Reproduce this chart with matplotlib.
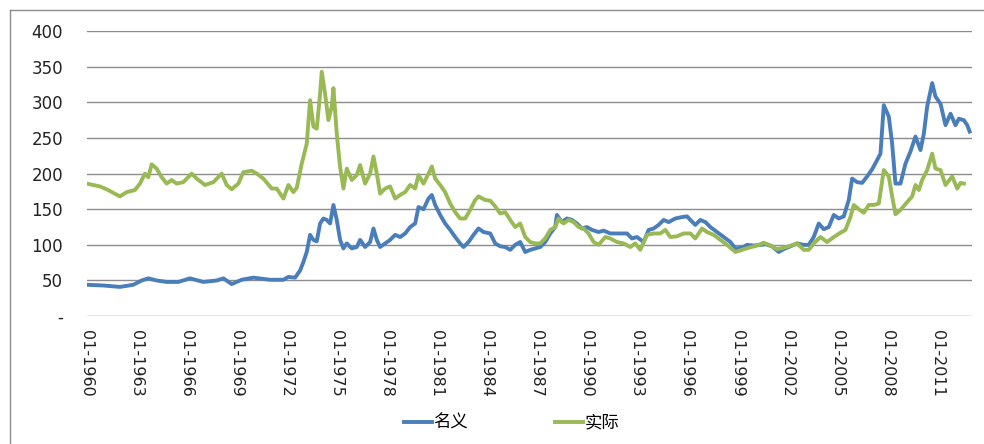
import matplotlib
matplotlib.use("Agg")
import matplotlib.pyplot as plt
from matplotlib.lines import Line2D

plt.rcParams['font.family'] = ['DejaVu Sans']

# nominal price index (decimal year, value)
nominal_years = [
    1960.0, 1961.0, 1962.0, 1962.8, 1963.3, 1963.7, 1964.2, 1964.8, 1965.5, 1966.2,
    1967.0, 1967.8, 1968.2, 1968.7, 1969.3, 1970.0, 1971.0, 1971.8, 1972.1, 1972.5,
    1972.8, 1973.0, 1973.2, 1973.4, 1973.6, 1973.8, 1974.0, 1974.2, 1974.4, 1974.6,
    1974.8, 1975.0, 1975.2, 1975.4, 1975.6, 1975.9, 1976.2, 1976.4, 1976.7, 1977.0,
    1977.2, 1977.4, 1977.6, 1977.9, 1978.2, 1978.5, 1978.8, 1979.1, 1979.4, 1979.7,
    1979.9, 1980.2, 1980.5, 1980.7, 1980.9, 1981.2, 1981.5, 1981.8, 1982.1, 1982.4,
    1982.6, 1982.9, 1983.2, 1983.5, 1983.8, 1984.2, 1984.5, 1984.8, 1985.1, 1985.4,
    1985.7, 1986.0, 1986.3, 1986.6, 1986.9, 1987.2, 1987.5, 1987.8, 1988.1, 1988.2,
    1988.5, 1988.8, 1989.1, 1989.4, 1989.7, 1990.0, 1990.3, 1990.7, 1991.0, 1991.4,
    1992.0, 1992.4, 1992.7, 1993.0, 1993.4, 1993.7, 1994.0, 1994.3, 1994.6, 1994.9,
    1995.3, 1995.7, 1996.0, 1996.2, 1996.5, 1996.8, 1997.1, 1997.4, 1997.8, 1998.2,
    1998.6, 1998.9, 1999.3, 1999.6, 2000.0, 2000.4, 2000.7, 2001.1, 2001.5, 2001.8,
    2002.1, 2002.6, 2003.0, 2003.3, 2003.6, 2003.9, 2004.2, 2004.5, 2004.8, 2005.1,
    2005.4, 2005.7, 2005.9, 2006.2, 2006.5, 2006.8, 2007.1, 2007.4, 2007.6, 2007.8,
    2008.1, 2008.3, 2008.5, 2008.8, 2009.1, 2009.4, 2009.7, 2010.0, 2010.2, 2010.4,
    2010.7, 2010.9, 2011.2, 2011.5, 2011.8, 2012.1, 2012.3, 2012.6, 2012.8, 2012.95,
]
nominal = [
    44, 43, 41, 44, 50, 53, 50, 48, 48, 53,
    48, 50, 53, 45, 51, 54, 51, 51, 55, 54,
    64, 76, 90, 114, 107, 105, 130, 137, 135, 130,
    156, 135, 107, 95, 102, 95, 97, 107, 97, 104,
    123, 107, 97, 102, 107, 114, 111, 116, 125, 130,
    153, 150, 165, 170, 156, 142, 130, 121, 111, 102,
    97, 104, 114, 123, 118, 116, 102, 98, 97, 93,
    100, 104, 90, 93, 95, 97, 104, 116, 125, 142,
    132, 137, 135, 130, 123, 125, 121, 118, 120, 116,
    116, 116, 109, 111, 104, 121, 123, 128, 135, 132,
    137, 139, 140, 135, 128, 135, 132, 125, 118, 111,
    104, 95, 96, 100, 99, 100, 101, 98, 90, 94,
    97, 102, 100, 100, 111, 130, 122, 125, 142, 137,
    140, 163, 193, 188, 187, 196, 206, 219, 228, 296,
    280, 242, 186, 186, 214, 231, 252, 233, 256, 294,
    327, 308, 298, 268, 284, 268, 277, 275, 268, 259,
]

# real price index (decimal year, value)
real_years = [
    1960.0, 1960.8, 1961.2, 1961.6, 1962.0, 1962.4, 1962.9, 1963.2, 1963.5, 1963.7,
    1963.9, 1964.2, 1964.5, 1964.8, 1965.1, 1965.4, 1965.8, 1966.3, 1966.6, 1967.1,
    1967.6, 1968.1, 1968.4, 1968.7, 1969.1, 1969.4, 1969.9, 1970.2, 1970.6, 1971.1,
    1971.4, 1971.8, 1972.1, 1972.4, 1972.6, 1972.9, 1973.2, 1973.4, 1973.6, 1973.8,
    1974.0, 1974.1, 1974.3, 1974.5, 1974.7, 1974.8, 1975.0, 1975.2, 1975.4, 1975.6,
    1975.9, 1976.2, 1976.4, 1976.7, 1977.0, 1977.2, 1977.4, 1977.6, 1977.9, 1978.2,
    1978.5, 1978.8, 1979.1, 1979.4, 1979.7, 1979.9, 1980.2, 1980.5, 1980.7, 1980.9,
    1981.2, 1981.5, 1981.8, 1982.1, 1982.4, 1982.7, 1983.0, 1983.3, 1983.5, 1983.9,
    1984.2, 1984.5, 1984.8, 1985.1, 1985.4, 1985.7, 1986.0, 1986.3, 1986.6, 1986.9,
    1987.2, 1987.5, 1987.8, 1988.1, 1988.3, 1988.6, 1988.9, 1989.2, 1989.5, 1989.8,
    1990.1, 1990.4, 1990.7, 1991.1, 1991.4, 1991.8, 1992.2, 1992.6, 1992.9, 1993.2,
    1993.6, 1994.0, 1994.4, 1994.7, 1995.0, 1995.4, 1995.8, 1996.2, 1996.5, 1996.9,
    1997.2, 1997.6, 1998.0, 1998.4, 1998.9, 1999.3, 1999.7, 2000.2, 2000.6, 2001.0,
    2001.4, 2001.8, 2002.1, 2002.6, 2003.0, 2003.3, 2003.6, 2004.0, 2004.4, 2004.8,
    2005.2, 2005.5, 2005.8, 2006.0, 2006.3, 2006.6, 2006.9, 2007.2, 2007.5, 2007.8,
    2008.1, 2008.3, 2008.5, 2008.8, 2009.2, 2009.5, 2009.7, 2009.9, 2010.1, 2010.4,
    2010.7, 2010.9, 2011.2, 2011.5, 2011.9, 2012.2, 2012.4, 2012.6,
]
real = [
    186, 182, 178, 173, 168, 174, 177, 186, 200, 195,
    213, 207, 195, 186, 191, 186, 188, 200, 193, 184,
    188, 200, 184, 178, 186, 202, 204, 200, 193, 179,
    179, 165, 184, 174, 180, 214, 242, 303, 266, 263,
    312, 343, 312, 275, 294, 320, 256, 209, 179, 207,
    191, 198, 212, 186, 200, 224, 200, 172, 179, 182,
    165, 170, 174, 184, 179, 198, 186, 200, 210, 193,
    184, 174, 158, 146, 137, 137, 149, 163, 168, 163,
    162, 154, 144, 146, 135, 125, 130, 111, 104, 102,
    102, 109, 121, 125, 137, 130, 135, 132, 125, 123,
    116, 104, 100, 111, 109, 104, 102, 97, 102, 93,
    114, 116, 116, 121, 111, 112, 116, 116, 109, 123,
    118, 114, 107, 100, 90, 93, 96, 99, 103, 99,
    94, 96, 98, 102, 93, 93, 102, 111, 104, 111,
    117, 121, 139, 156, 150, 145, 156, 156, 158, 205,
    196, 168, 143, 149, 160, 168, 184, 177, 191, 205,
    228, 207, 205, 184, 196, 179, 187, 186,
]

tick_years = list(range(1960, 2012, 3))
tick_labels = ['01-%d' % y for y in tick_years]
y_ticks = [0, 50, 100, 150, 200, 250, 300, 350, 400]
y_labels = ['-', '50', '100', '150', '200', '250', '300', '350', '400']

fig = plt.figure(figsize=(9.84, 4.44), dpi=100)
ax = fig.add_axes([0.088, 0.288, 0.900, 0.642])

ax.plot(nominal_years, nominal, color='#4a7ebb', lw=2.8, label='名义', solid_joinstyle='round')
ax.plot(real_years, real, color='#98b954', lw=2.8, label='实际', solid_joinstyle='round')

ax.set_xlim(1960, 2013.1)
ax.set_ylim(0, 400)
ax.set_yticks(y_ticks)
ax.set_yticklabels(y_labels, fontsize=12, color='#222222')
ax.set_xticks(tick_years)
ax.set_xticklabels(tick_labels, rotation=-90, fontsize=11.5, color='#222222')
ax.tick_params(length=0)
ax.tick_params(axis='y', pad=17)
ax.tick_params(axis='x', pad=10)
ax.grid(axis='y', color='#8c8c8c', lw=1)
ax.set_axisbelow(True)
for s in ax.spines.values():
    s.set_visible(False)

leg = fig.legend(loc='center', bbox_to_anchor=(0.52, 0.048), ncol=2, frameon=False,
                 prop={'family': ['Noto Sans CJK SC', 'DejaVu Sans'], 'size': 12.5},
                 handlelength=1.6, columnspacing=5.0, handletextpad=0.1)

# outer frame of the chart area
fig.add_artist(Line2D([0.0105, 0.0105], [0.0, 0.978], color='#8c8c8c', lw=1))
fig.add_artist(Line2D([0.0105, 1.0], [0.978, 0.978], color='#8c8c8c', lw=1))

fig.savefig('out.png', dpi=100)
